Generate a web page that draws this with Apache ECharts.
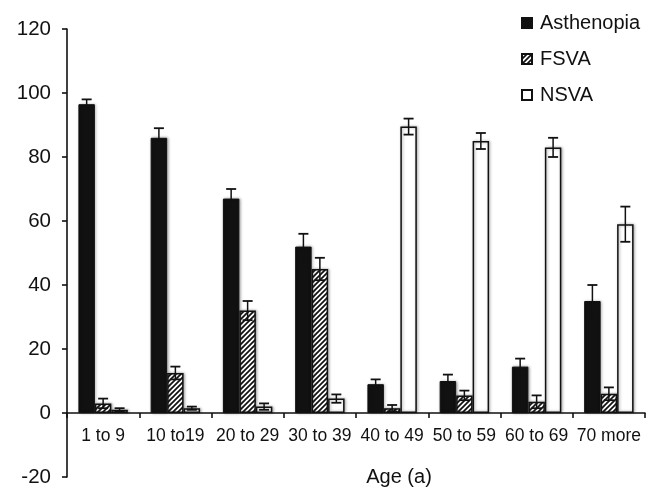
<!DOCTYPE html>
<html><head><meta charset="utf-8">
<script src="https://cdn.jsdelivr.net/npm/echarts@6/dist/echarts.min.js"></script>
<style>html,body{margin:0;padding:0;background:#fff}#c{width:661px;height:490px}</style>
</head><body><div id="c"></div>
<script>
const categories = ['1 to 9','10 to19','20 to 29','30 to 39','40 to 49','50 to 59','60 to 69','70 more'];
const asthenopia = [96.5, 86, 67, 52, 9, 10, 14.5, 35];
const asthenopiaErr = [1.5, 3, 3, 4, 1.5, 2, 2.5, 5];
const fsva = [3, 12.5, 32, 45, 1.5, 5.5, 3.5, 6];
const fsvaErr = [1.5, 2, 3, 3.5, 1, 1.5, 2, 2];
const nsva = [1, 1.5, 2, 4.5, 89.5, 85, 83, 59];
const nsvaErr = [0.5, 0.5, 1, 1.3, 2.5, 2.5, 3, 5.5];
const seriesNames = ['Asthenopia','FSVA','NSVA'];

const hatch = document.createElement('canvas');
hatch.width = 5; hatch.height = 5;
(function(){
  const g = hatch.getContext('2d');
  g.fillStyle = '#fff'; g.fillRect(0,0,5,5);
  g.strokeStyle = '#111'; g.lineWidth = 1.7;
  g.beginPath();
  g.moveTo(-1,6); g.lineTo(6,-1);
  g.moveTo(-4,4); g.lineTo(4,-4);
  g.moveTo(1,9); g.lineTo(9,1);
  g.stroke();
})();

const BW = 0.228;
const FONT = 'Liberation Sans, Arial, sans-serif';
const Y_MIN = -20, Y_MAX = 120;
const GRID = {left:67, right:16, top:29, bottom:13};
const chart = echarts.init(document.getElementById('c'), null, {renderer:'canvas'});
const plotH = 490 - GRID.top - GRID.bottom;
const zeroOffset = -plotH * (0 - Y_MIN) / (Y_MAX - Y_MIN);

function errSeries(vals, errs, idx, name){
  return {
    type:'custom', name: name+'_err', z: 5, silent:true,
    data: vals.map((v,i)=>[i, v, errs[i]]),
    encode:{x:0, y:1},
    renderItem(params, api){
      const ci = api.value(0), v = api.value(1), e = api.value(2);
      const band = api.size([1,0])[0];
      const x = api.coord([ci, v])[0] + (idx-1)*BW*band;
      const yt = api.coord([ci, v+e])[1];
      const yb = api.coord([ci, v-e])[1];
      const hw = 5;
      const st = {stroke:'#111', lineWidth:1.5};
      const cap = {stroke:'#111', lineWidth:1.8};
      return {type:'group', children:[
        {type:'line', shape:{x1:x,y1:yt,x2:x,y2:yb}, style:st},
        {type:'line', shape:{x1:x-hw,y1:yt,x2:x+hw,y2:yt}, style:cap},
        {type:'line', shape:{x1:x-hw,y1:yb,x2:x+hw,y2:yb}, style:cap}
      ]};
    }
  };
}

const shadow = {shadowBlur:3, shadowColor:'rgba(0,0,0,0.35)', shadowOffsetX:1, shadowOffsetY:0};

chart.setOption({
  animation:false,
  textStyle:{fontFamily:FONT},
  grid:Object.assign({containLabel:false, outerBoundsMode:'none'}, GRID),
  legend:{
    data: seriesNames, orient:'vertical', left:516, top:8,
    itemWidth:10, itemHeight:10, itemGap:16,
    textStyle:{fontSize:20, color:'#111', fontFamily:FONT, padding:[0,0,0,3]},
    icon:'rect'
  },
  xAxis:{
    type:'category', data:categories,
    offset: zeroOffset,
    name:'Age (a)', nameLocation:'middle', nameGap:54,
    nameTextStyle:{fontSize:20, color:'#111', fontFamily:FONT, padding:[0,0,0,86]},
    axisLine:{onZero:false, lineStyle:{color:'#111', width:1.6}},
    axisTick:{show:true, length:5, lineStyle:{color:'#111', width:1.6}},
    axisLabel:{fontSize:17.5, color:'#111', margin:14, interval:0, fontFamily:FONT}
  },
  yAxis:{
    type:'value', min:Y_MIN, max:Y_MAX, interval:20,
    axisLine:{show:true, lineStyle:{color:'#111', width:1.6}},
    axisTick:{show:true, length:5, lineStyle:{color:'#111', width:1.6}},
    axisLabel:{fontSize:20.5, color:'#111', margin:16, fontFamily:FONT},
    splitLine:{show:false}
  },
  series:[
    {type:'bar', name:'Asthenopia', data:asthenopia, barWidth:(BW*100)+'%', barGap:'0%',
     itemStyle:Object.assign({color:'#111', borderColor:'#111', borderWidth:1}, shadow)},
    {type:'bar', name:'FSVA', data:fsva, barWidth:(BW*100)+'%', barGap:'0%',
     itemStyle:Object.assign({color:{image:hatch, repeat:'repeat'}, borderColor:'#111', borderWidth:1.5}, shadow)},
    {type:'bar', name:'NSVA', data:nsva, barWidth:(BW*100)+'%', barGap:'0%',
     itemStyle:Object.assign({color:'#fff', borderColor:'#111', borderWidth:1.5}, shadow)},
    errSeries(asthenopia, asthenopiaErr, 0, 'Asthenopia'),
    errSeries(fsva, fsvaErr, 1, 'FSVA'),
    errSeries(nsva, nsvaErr, 2, 'NSVA')
  ]
});
</script></body></html>
